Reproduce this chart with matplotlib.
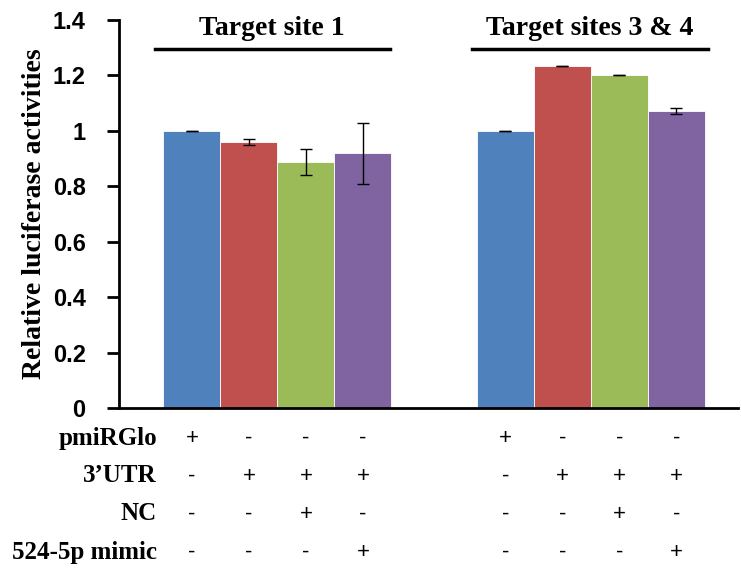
import numpy as np
import matplotlib.pyplot as plt

# Data
groups = ["Target site 1", "Target sites 3 & 4"]
site1_vals = [1.0, 0.961, 0.888, 0.919]
site1_err = [0.0, 0.011, 0.046, 0.11]
site34_vals = [1.0, 1.235, 1.2, 1.071]
site34_err = [0.0, 0.0, 0.0, 0.01]
colors = ["#4F81BD", "#C0504D", "#9BBB59", "#8064A2"]

row_labels = ["pmiRGlo", "3\u2019UTR", "NC", "524-5p mimic"]
signs = [["+", "-", "-", "-"],
         ["-", "+", "+", "+"],
         ["-", "-", "+", "-"],
         ["-", "-", "-", "+"]]

fig = plt.figure(figsize=(7.41, 5.69), dpi=100)
ax = fig.add_axes([119 / 741, 1 - 408 / 569, (738 - 119) / 741, (408 - 20) / 569])

x1 = np.arange(4)
x2 = np.arange(4) + 5.5
for xs, vals, errs in [(x1, site1_vals, site1_err), (x2, site34_vals, site34_err)]:
    ax.bar(xs, vals, width=1.0, color=colors, edgecolor="white", linewidth=0.6)
    ax.errorbar(xs, vals, yerr=errs, fmt="none", ecolor="black",
                elinewidth=1.0, capsize=4, capthick=1.0)

ax.set_xlim(-1.28, 9.58)
ax.set_ylim(0, 1.4)
ax.set_yticks([0, 0.2, 0.4, 0.6, 0.8, 1.0, 1.2, 1.4])
ax.set_yticklabels(["0", "0.2", "0.4", "0.6", "0.8", "1", "1.2", "1.4"],
                   fontfamily="Liberation Sans", fontweight="bold", fontsize=17)
ax.set_xticks([])
ax.tick_params(axis="y", direction="out", length=9, width=2, pad=15)
for s in ["top", "right"]:
    ax.spines[s].set_visible(False)
ax.spines["left"].set_linewidth(2)
ax.spines["bottom"].set_linewidth(2)

ax.set_ylabel("Relative luciferase activities", fontfamily="Liberation Serif",
              fontweight="bold", fontsize=20, labelpad=4)

# Group headings with lines
for xs_line, xc, name in [((-0.65, 3.47), 1.40, groups[0]), ((4.91, 9.05), 6.98, groups[1])]:
    ax.plot(xs_line, [1.296, 1.296], color="black", lw=2.5, clip_on=False)
    ax.text(xc, 1.37, name, ha="center", va="center", fontfamily="Liberation Serif",
            fontweight="bold", fontsize=20, clip_on=False)

# Condition table below the axis
row_y = [438, 476, 514, 552]
all_x = list(x1) + list(x2)
for r, (lab, yp) in enumerate(zip(row_labels, row_y)):
    yf = 1 - yp / 569
    fig.text(157 / 741, yf, lab, ha="right", va="center", fontfamily="Liberation Serif",
             fontweight="bold", fontsize=18)
    for c, xv in enumerate(all_x):
        s = signs[r][c % 4]
        fig.text(ax.transData.transform((xv, 0))[0] / fig.bbox.width, yf, s,
                 ha="center", va="center", fontfamily="Liberation Sans", fontsize=16)

fig.savefig("out.png", dpi=100)
